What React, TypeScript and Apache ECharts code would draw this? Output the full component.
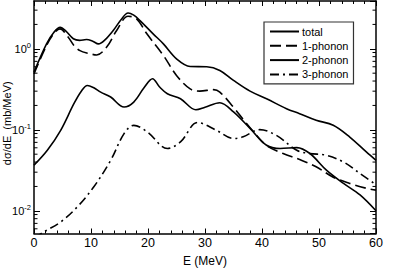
import React, { useEffect, useRef } from "react";
import * as echarts from "echarts";

// Energies (MeV) and cross sections (mb/MeV)
const totalE = [0, 2.2, 3.5, 4.6, 5.6, 6.9, 8, 9.2, 10.3, 11.3, 12.5, 13.9, 15.3, 16.5, 17.5, 18.6, 20.9, 22.7, 25, 27.4, 30.3, 32.6, 35, 37.9, 40.8, 44.3, 46.6, 49.5, 52.5, 55.4, 58.3, 60];
const totalV = [0.515, 1.15, 1.6, 1.84, 1.65, 1.33, 1.27, 1.3, 1.24, 1.15, 1.3, 1.68, 2.3, 2.77, 2.6, 2.23, 1.53, 1.15, 0.753, 0.605, 0.6, 0.54, 0.407, 0.3, 0.242, 0.182, 0.158, 0.131, 0.114, 0.0815, 0.0533, 0.042];

const onePhE = [0, 2.2, 3.5, 4.56, 6.0, 7, 8.07, 9.5, 11, 12.75, 14.5, 16.5, 18, 19.8, 22.7, 25, 27.4, 29.1, 31.5, 32.6, 35, 36.7, 38.5, 40.8, 43.7, 46.6, 49.5, 52.5, 55.4, 58.3, 60];
const onePhV = [0.49, 1.1, 1.55, 1.76, 1.39, 1.1, 0.95, 0.88, 0.84, 1.05, 1.68, 2.52, 2.34, 1.53, 0.827, 0.469, 0.32, 0.3, 0.313, 0.292, 0.19, 0.135, 0.095, 0.064, 0.051, 0.043, 0.035, 0.026, 0.0218, 0.019, 0.018];

const twoPhE = [0, 2.34, 4.68, 7.0, 8.3, 9.36, 10.5, 11.7, 13.45, 15.8, 17.5, 19.3, 20.8, 22, 23.4, 25.7, 28.4, 30, 32.6, 35, 37.9, 40.8, 43.2, 46.1, 48.4, 51.3, 54.3, 57.2, 60];
const twoPhV = [0.0366, 0.056, 0.0986, 0.21, 0.3, 0.353, 0.33, 0.292, 0.254, 0.191, 0.22, 0.33, 0.427, 0.34, 0.279, 0.242, 0.177, 0.19, 0.216, 0.166, 0.104, 0.0645, 0.0588, 0.0603, 0.051, 0.0318, 0.0218, 0.0157, 0.01];

const threePhE = [0, 1.75, 4.7, 7.6, 10.5, 13.45, 15.8, 17.5, 19.9, 23.4, 25.7, 28.7, 32, 35, 36.7, 39.6, 42.5, 46.1, 48.4, 51.3, 54.3, 57.2, 60];
const threePhV = [0.0046, 0.0055, 0.0073, 0.0112, 0.0198, 0.042, 0.0898, 0.1136, 0.094, 0.0587, 0.0708, 0.123, 0.0986, 0.078, 0.082, 0.1005, 0.0855, 0.056, 0.051, 0.0485, 0.04, 0.0289, 0.021];

const seriesNames = ["total", "1-phonon", "2-phonon", "3-phonon"];
const xMin = 0;
const xMax = 60;
const xStep = 10;
const yMin = 0.00525;
const yMax = 3.89;
const minorMultipliers = [2, 3, 4, 5, 6, 7, 8, 9];
const decades = [-3, -2, -1, 0];

export default function App() {
  const ref = useRef<HTMLDivElement>(null);
  useEffect(() => {
    const chart = echarts.init(ref.current!, null, { renderer: "svg" });
    const font = "Liberation Sans";
    const pairs = (e: number[], v: number[]) => e.map((x, i) => [x, v[i]]);
    const lineCol = "#000";
    const axisLine = { show: true, onZero: false, lineStyle: { color: lineCol, width: 1.5 } };
    const xBase = {
      type: "value",
      min: xMin,
      max: xMax,
      interval: xStep,
      axisLine,
      axisTick: { show: true, inside: true, length: 5, lineStyle: { color: lineCol, width: 1 } },
      minorTick: { show: true, splitNumber: 5, length: 3, lineStyle: { color: lineCol, width: 1 } },
      splitLine: { show: false },
    };
    const yBase = {
      type: "log",
      logBase: 10,
      min: yMin,
      max: yMax,
      axisLine,
      axisTick: { show: true, inside: true, length: 6, lineStyle: { color: lineCol, width: 1 } },
      splitLine: { show: false },
    };
    const mk = (name: string, e: number[], v: number[], type: any, width: number) => ({
      name,
      type: "line",
      data: pairs(e, v),
      symbol: "none",
      showSymbol: false,
      smooth: 0.35,
      clip: true,
      itemStyle: { color: lineCol, opacity: 0 },
      lineStyle: { color: lineCol, width, type },
    });
    chart.setOption({
      animation: false,
      backgroundColor: "#fff",
      textStyle: { fontFamily: font },
      grid: { left: 34, right: 39, top: 1, bottom: 35.5, outerBoundsMode: "none", containLabel: false },
      legend: {
        data: seriesNames,
        orient: "vertical",
        left: 264,
        top: 22,
        itemWidth: 29,
        itemHeight: 10,
        itemGap: 3.3,
        padding: [4, 5, 4, 5],
        borderColor: "#333",
        borderWidth: 1.2,
        backgroundColor: "#fff",
        textStyle: { fontFamily: font, fontSize: 11, color: "#000", padding: [0, 0, 0, -2] },
        itemStyle: { opacity: 0 },
      },
      xAxis: [
        {
          ...xBase,
          position: "bottom",
          name: "E (MeV)",
          nameLocation: "middle",
          nameGap: 21,
          nameMoveOverlap: false,
          nameTextStyle: { fontFamily: font, fontSize: 12, color: "#000" },
          axisLabel: { fontFamily: font, fontSize: 12.5, color: "#000", margin: 3 },
        },
        { ...xBase, position: "top", axisLabel: { show: false } },
      ],
      yAxis: [
        {
          ...yBase,
          position: "left",
          name: "dσ/dE  (mb/MeV)",
          nameLocation: "middle",
          nameGap: 22,
          nameMoveOverlap: false,
          nameTextStyle: { fontFamily: font, fontSize: 11, color: "#000", padding: [0, 12, 0, 0] },
          axisLabel: {
            showMinLabel: false,
            showMaxLabel: false,
            margin: 3,
            formatter: (v: number) => `{b|10}{s|${Math.round(Math.log10(v))}}`,
            rich: {
              b: { fontFamily: font, fontSize: 11, color: "#000", lineHeight: 14 },
              s: { fontFamily: font, fontSize: 7.5, color: "#000", verticalAlign: "top", lineHeight: 14, padding: [0, 0, 5, 0] },
            },
          },
        },
        { ...yBase, position: "right", axisLabel: { show: false } },
      ],
      series: [
        mk(seriesNames[0], totalE, totalV, "solid", 1.6),
        mk(seriesNames[1], onePhE, onePhV, [11, 5], 1.6),
        mk(seriesNames[2], twoPhE, twoPhV, "solid", 1.6),
        mk(seriesNames[3], threePhE, threePhV, [9, 4, 2, 4], 1.6),
      ],
    });
    const left = chart.convertToPixel({ xAxisIndex: 0 }, xMin) as number;
    const right = chart.convertToPixel({ xAxisIndex: 0 }, xMax) as number;
    const ticks: any[] = [];
    decades.forEach((k) => {
      minorMultipliers.forEach((m) => {
        const v = m * Math.pow(10, k);
        if (v <= yMin || v >= yMax) return;
        const y = chart.convertToPixel({ yAxisIndex: 0 }, v) as number;
        ticks.push({ type: "line", silent: true, shape: { x1: left, y1: y, x2: left + 3.5, y2: y }, style: { stroke: lineCol, lineWidth: 1 } });
        ticks.push({ type: "line", silent: true, shape: { x1: right - 3.5, y1: y, x2: right, y2: y }, style: { stroke: lineCol, lineWidth: 1 } });
      });
    });
    chart.setOption({ graphic: ticks });
    return () => chart.dispose();
  }, []);
  return <div ref={ref} style={{ position: "fixed", left: 0, top: 0, width: 415, height: 269 }} />;
}
